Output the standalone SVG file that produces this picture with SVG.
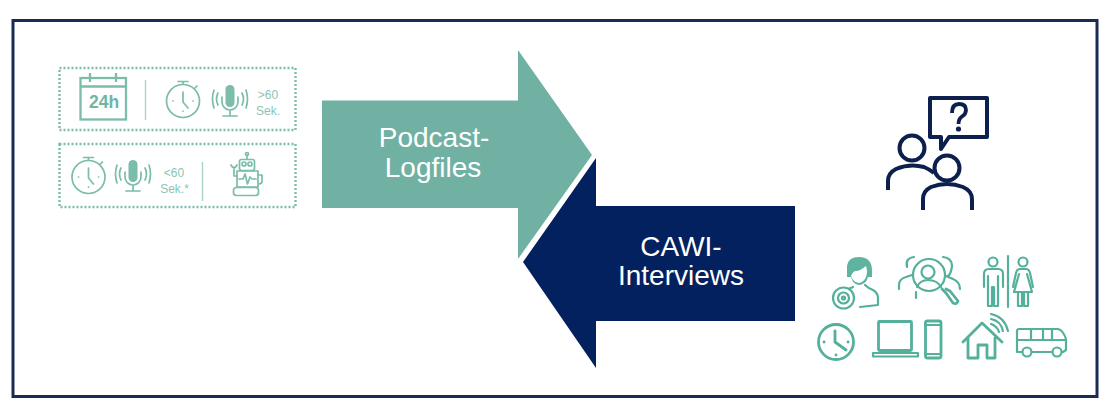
<svg xmlns="http://www.w3.org/2000/svg" width="1117" height="403" viewBox="0 0 1117 403">
<style>
.g{fill:none;stroke:#7bbcab;stroke-width:1.7;stroke-linecap:round;stroke-linejoin:round}
.gb{fill:none;stroke:#7bbcab;stroke-width:2.3}
.dot{fill:none;stroke:#7bbcab;stroke-width:2.4;stroke-dasharray:2 2}
.sep{stroke:#a9d3c8;stroke-width:1.4}
.small{font-family:"Liberation Sans",Arial,sans-serif;font-size:12px;fill:#8cc4b6;text-anchor:middle}
.big{font-family:"Liberation Sans",Arial,sans-serif;font-size:28px;fill:#fff;text-anchor:middle}
.t{fill:none;stroke:#54b09b;stroke-width:2.8;stroke-linecap:round;stroke-linejoin:round}
.t2{fill:none;stroke:#54b09b;stroke-width:2.2;stroke-linecap:round;stroke-linejoin:round}
.n{fill:none;stroke:#0c1f4d;stroke-width:4;stroke-linejoin:round}
</style>
<defs>
<g id="stopwatch">
<circle cx="0" cy="0" r="16.500" class="g"/>
<path d="M0-9V1L5 7M-5-19.500H5M0-19.500V-17M12-13L14-15" class="g"/>
<path d="M-10 0h.1M10 0h.1M0 10v.1" class="g"/>
</g>
<g id="mic">
<rect x="-4.500" y="-15" width="9" height="22" rx="4.500" fill="#7bbcab"/>
<path d="M-8-3V2A8 8 0 0 0 8 2V-3M0 10V16M-7 16H7" class="g"/>
<path d="M-12-7Q-15-1-12 5M12-7Q15-1 12 5M-16-10Q-19-1-16 8M16-10Q19-1 16 8" class="g"/>
</g>
</defs>
<rect id="frame" x="13" y="20.500" width="1084" height="376" fill="#fff" stroke="#1a2c54" stroke-width="3"/>
<g id="logfile-criteria">
<rect x="59.500" y="68" width="236" height="62" class="dot"/>
<rect x="59.500" y="144" width="236" height="63" class="dot"/>
<g id="calendar">
<rect x="80.500" y="78" width="45.500" height="41.500" class="gb"/>
<path d="M80.500 86.500H126M90 73V82M116 73V82" class="gb"/>
<text x="104" y="108" font-family="Liberation Sans,Arial,sans-serif" font-weight="700" font-size="17.500" fill="#6fb5a4" text-anchor="middle">24h</text>
</g>
<line x1="145.500" y1="80" x2="145.500" y2="120" class="sep"/>
<use href="#stopwatch" x="183" y="101"/>
<use href="#mic" x="230" y="100"/>
<text x="268" y="99" class="small">&gt;60</text>
<text x="268" y="115" class="small">Sek.</text>
<use href="#stopwatch" x="88.500" y="177"/>
<use href="#mic" x="133" y="175"/>
<text x="174" y="177" class="small">&lt;60</text>
<text x="174.500" y="193" class="small">Sek.*</text>
<line x1="202.500" y1="162" x2="202.500" y2="201" class="sep"/>
<g id="robot" class="g">
<rect x="239.500" y="159.500" width="15" height="11" rx="2"/>
<circle cx="244" cy="164" r="2"/><circle cx="250" cy="164" r="2"/>
<path d="M247 159V155"/><circle cx="247" cy="154" r="1.500"/>
<rect x="237" y="171" width="21" height="16"/>
<path d="M239 179H243L245 174L247.500 184L250 177L252 179H256"/>
<rect x="233.500" y="187.500" width="25" height="8" rx="3"/>
<path d="M237 176H234V167M231 165Q234 171 237 165M258 175H262V181Q262 184 259 184"/>
</g>
</g>
<g id="connectors">
<polygon id="arrow-logfiles" points="322,100.500 518,100.500 518,50 592,155 518,259 518,208 322,208" fill="#71b1a3"/>
<polygon id="arrow-interviews" points="795,206 596,206 596,158 523,262 596,368 596,321 795,321" fill="#03215f"/>
</g>
<g id="label-logfiles"><text x="434" y="147" class="big">Podcast-</text><text x="433" y="177" class="big">Logfiles</text></g>
<g id="label-interviews"><text x="681" y="256" class="big">CAWI-</text><text x="681" y="285" class="big">Interviews</text></g>
<g id="interview-icon">
<path class="n" d="M930 98H987V137H949L941 149V137H930Z"/>
<path d="M952 113Q952 104 959 104Q966 104 966 110Q966 114 962 116.500Q958.500 119 958.500 124" fill="none" stroke="#0c1f4d" stroke-width="3.800"/>
<circle cx="958.500" cy="129" r="2.600" fill="#0c1f4d"/>
<circle cx="912" cy="148" r="12.500" class="n"/>
<path class="n" d="M888 190V181Q888 173 896 169Q910 163 924 167Q929 169 934 173"/>
<circle cx="947" cy="168" r="12.500" class="n"/>
<path class="n" d="M923 210V199Q923 191 931 187Q947 181 963 187Q972 191 972 199V210"/>
</g>
<g id="audience-icons">
<g id="listener">
<path d="M847 277V266Q848 257 859 257Q871 257 872 269V277L868 277Q867 283 860 285Q853 285 851 277Z" fill="#5fb4a0"/>
<path d="M851 276Q853 271 856 271Q860 271 866 266Q868 272 866 277Q864 282 859 283Q853 282 851 276Z" fill="#fff"/>
<path class="t2" d="M853 287L846 290M865 285Q868 288 873 290Q878 293 878 298V305L860 307"/>
<circle cx="843.500" cy="298" r="10.500" fill="#fff" stroke="#54b09b" stroke-width="2.200"/>
<circle cx="843.500" cy="298" r="5.500" class="t2" stroke-width="1.400"/><circle cx="843.500" cy="298" r="1.500" class="t2" stroke-width="1.400"/>
</g>
<g id="search-people">
<circle cx="929" cy="275" r="16" class="t2"/>
<circle cx="928" cy="272" r="6.500" class="t2"/>
<path class="t2" d="M917 287Q920 280 928 280Q937 280 941 287"/>
<path class="t2" d="M899 289V285Q899 279 906 277L912 275M907 267Q905 258 914 257M943 257Q952 258 952 266Q951 274 948 276M946 276L953 279Q960 282 960 289M916 298V292"/>
<path class="t" stroke-width="2.200" d="M942 289L946 293L953 303Q957 305 958 301L950 291L946 289"/>
</g>
<g id="gender">
<line x1="1008" y1="256" x2="1008" y2="307" class="t2"/>
<circle cx="993" cy="262" r="4.500" class="t2"/><circle cx="1023" cy="262" r="4.500" class="t2"/>
<path class="t2" d="M984 287V274Q984 269 989 269H998Q1003 269 1003 274V287M988 276V306H992V287H994V306H998V276"/>
<path class="t2" d="M1013 287L1016 273Q1017 269 1020 269H1026Q1029 269 1030 273L1033 287M1019 274L1014 292H1032L1027 274M1018 292V306H1022V292M1024 292V306H1028V292"/>
</g>
<g id="clock"><circle cx="836" cy="342" r="17.500" class="t" stroke-width="3.200"/><path class="t" d="M835 331V342L846 350"/><path d="M824 342h.1M848 342h.1M836 355v.1" class="t"/></g>
<g id="laptop">
<rect x="878.500" y="321.500" width="33" height="29" rx="1" class="t"/>
<path class="t2" d="M873 353H918V356.500H873Z"/>
<rect x="925.500" y="321" width="15.500" height="37" rx="2" class="t"/>
<path class="t2" d="M925 325H941M925 354H941"/>
</g>
<g id="home">
<path class="t" d="M963 342L982 323L1002 342M968 338V358H978V345H987V358H995V338"/>
<path class="t2" d="M991 324Q997 326 999 332M991 319Q1001 321 1003 331M991 314Q1005 317 1008 331" stroke-width="1.800"/>
</g>
<g id="bus">
<path class="t2" d="M1022 352H1017V331Q1017 329 1019 329H1058Q1063 330 1066 339V350L1063 352H1062M1052 352H1032"/>
<path class="t2" d="M1017 340H1066M1031 330V340M1043 330V340M1052 330V340" stroke-width="1.800"/>
<circle cx="1027" cy="352" r="4.500" class="t2"/><circle cx="1057" cy="352" r="4.500" class="t2"/>
</g>
</g>
</svg>
